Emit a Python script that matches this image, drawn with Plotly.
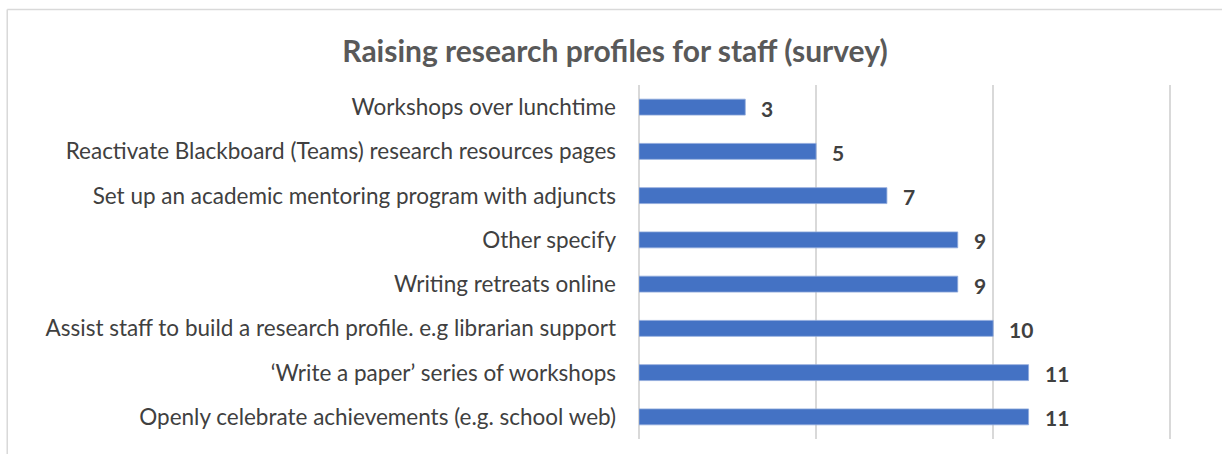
import plotly.graph_objects as go

# Data (bottom to top as plotted)
categories = [
    "Openly celebrate achievements (e.g. school web)",
    "\u2018Write a paper\u2019 series of workshops",
    "Assist staff to build a research profile. e.g librarian support",
    "Writing retreats online",
    "Other specify",
    "Set up an academic mentoring program with adjuncts",
    "Reactivate Blackboard (Teams) research resources pages",
    "Workshops over lunchtime",
]
values = [11, 11, 10, 9, 9, 7, 5, 3]
title_text = "Raising research profiles for staff (survey)"

FONT = "Lato, Open Sans, sans-serif"
W, H = 1222, 454
XMAX = 15.05
L, T, B = 639, 85, 15
pw = (1170 - L) * XMAX / 15
R = W - L - pw
ph = H - T - B

fig = go.Figure()
fig.add_trace(go.Bar(
    y=categories, x=values, orientation="h",
    marker=dict(color="#4472C4", line=dict(color="#8FAADC", width=0.8)),
    width=0.36,
    hoverinfo="x+y",
))

for c, v in zip(categories, values):
    fig.add_annotation(x=v, y=c, xref="x", yref="y", text=f"<b>{v}</b>",
                       showarrow=False, xanchor="left", yanchor="middle",
                       xshift=14, yshift=-1,
                       font=dict(family=FONT, size=21, color="#404040"))

def px2x(p):
    return (p - L) / pw

def px2y(p):
    return 1 - (p - T) / ph

# chart frame (partially visible)
fig.add_shape(type="line", xref="paper", yref="paper",
              x0=px2x(7.5), x1=px2x(1240), y0=px2y(9.5), y1=px2y(9.5),
              line=dict(color="#D9D9D9", width=1.5))
fig.add_shape(type="line", xref="paper", yref="paper",
              x0=px2x(7.5), x1=px2x(7.5), y0=px2y(9.5), y1=px2y(470),
              line=dict(color="#D9D9D9", width=1.5))

fig.update_layout(
    width=W, height=H,
    margin=dict(l=L, r=R, t=T, b=B, autoexpand=False),
    paper_bgcolor="white", plot_bgcolor="white",
    showlegend=False,
    title=dict(text=f"<b>{title_text}</b>", x=615 / W, xref="container", xanchor="center",
               y=1 - 51 / H, yref="container", yanchor="middle",
               font=dict(family=FONT, size=30, color="#595959")),
    font=dict(family=FONT, color="#404040"),
)
fig.update_xaxes(range=[0, XMAX], dtick=5, showticklabels=False, showgrid=True,
                 gridcolor="#D9D9D9", gridwidth=1.5, zeroline=True,
                 zerolinecolor="#D9D9D9", zerolinewidth=1.5, fixedrange=True)
fig.update_yaxes(tickfont=dict(family=FONT, size=22.5, color="#404040"),
                 ticklabelstandoff=22, showgrid=False, showline=False, fixedrange=True)

fig.write_html("out.html", config={"displayModeBar": False},
               post_script="document.body.style.margin='0';document.body.style.overflow='hidden';")
